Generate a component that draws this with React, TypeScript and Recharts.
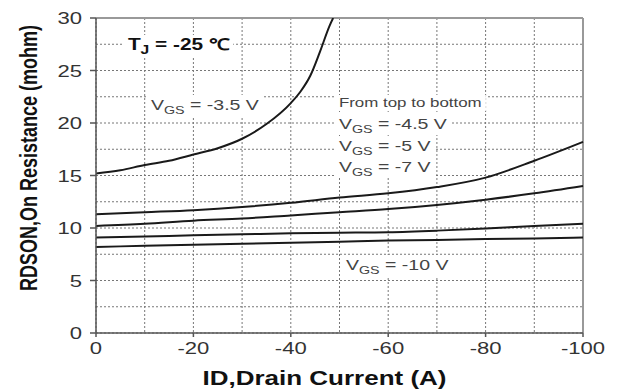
import { LineChart, Line, XAxis, YAxis, CartesianGrid, ReferenceLine } from 'recharts'

// drain current (A) and on-resistance (mohm), one pair of arrays per curve
const ID_35 = [0, -5, -10, -15, -20, -25, -30, -35, -40, -42, -44, -46, -48, -48.7]
const R_35 = [15.2, 15.5, 16.0, 16.4, 17.0, 17.6, 18.5, 19.9, 21.9, 23.0, 24.5, 26.8, 29.3, 30]

const ID_ALL = [0, -10, -20, -30, -40, -50, -60, -70, -80, -90, -100]
const R_45 = [11.3, 11.5, 11.7, 12.0, 12.4, 12.9, 13.3, 13.9, 14.8, 16.4, 18.2]
const R_5 = [10.2, 10.4, 10.7, 10.9, 11.2, 11.5, 11.8, 12.2, 12.7, 13.3, 14.0]
const R_7 = [9.1, 9.2, 9.3, 9.4, 9.5, 9.55, 9.6, 9.75, 9.95, 10.2, 10.4]
const R_10 = [8.2, 8.3, 8.4, 8.5, 8.6, 8.7, 8.8, 8.85, 8.95, 9.0, 9.1]

// grid every 10 A / 2.5 mohm, labels every 20 A / 5 mohm
const X_GRID = [0, -10, -20, -30, -40, -50, -60, -70, -80, -90, -100]
const Y_GRID = [0, 2.5, 5, 7.5, 10, 12.5, 15, 17.5, 20, 22.5, 25, 27.5, 30]
const X_STEP = 20
const Y_STEP = 5

const pts = (ids: number[], rs: number[]) => ids.map((id, i) => ({ id, r: rs[i] }))

const CURVES = [
  { key: 'v35', data: pts(ID_35, R_35) },
  { key: 'v45', data: pts(ID_ALL, R_45) },
  { key: 'v5', data: pts(ID_ALL, R_5) },
  { key: 'v7', data: pts(ID_ALL, R_7) },
  { key: 'v10', data: pts(ID_ALL, R_10) },
]

const FONT = 'Liberation Sans, Arial'
const SX = 1.3 // the reference glyphs are stretched sideways
const X_TS = 4, X_TM = 4, Y_TS = 6, Y_TM = 8

const XTick = ({ x, y, payload }: any) => {
  if (payload.value % X_STEP !== 0) return <g />
  return (
    <g>
      <line x1={x} x2={x} y1={y - X_TM - X_TS} y2={y - X_TM} stroke="#555" strokeWidth={1.5} />
      <text transform={`translate(${x},${y}) scale(${SX},1)`} textAnchor="middle" dy={13}
        fontSize={17} fill="#333" fontFamily={FONT}>{payload.value}</text>
    </g>
  )
}
const YTick = ({ x, y, payload }: any) => {
  if (payload.value % Y_STEP !== 0) return <g />
  return (
    <g>
      <line x1={x + Y_TM} x2={x + Y_TM + Y_TS} y1={y} y2={y} stroke="#555" strokeWidth={1.5} />
      <text transform={`translate(${x},${y}) scale(${SX},1)`} textAnchor="end" dy={6}
        fontSize={17} fill="#333" fontFamily={FONT}>{payload.value}</text>
    </g>
  )
}

const XTitle = ({ viewBox }: any) => (
  <text transform={`translate(${viewBox.x + viewBox.width / 2 - 15},${viewBox.y + viewBox.height - 7}) scale(${SX},1)`}
    textAnchor="middle" fontSize={20} fontWeight="bold" fill="#111" fontFamily={FONT}>ID,Drain Current (A)</text>
)
const YTitle = () => (
  <text transform={`translate(37,158) rotate(-90) scale(1,${SX})`} textAnchor="middle" fontSize={18} fontWeight="bold"
    fill="#111" fontFamily={FONT}>RDSON,On Resistance (mohm)</text>
)

function Vgs({ v }: { v: string }) {
  return (
    <span>
      V<span style={{ fontSize: 11, position: 'relative', top: 4 }}>GS</span> = {v}
    </span>
  )
}

const note = (left: number, cy: number, size: number) => ({
  position: 'absolute' as const, left, top: cy - 10, lineHeight: '20px', fontSize: size,
  fontFamily: FONT, background: '#fff', color: '#444', padding: '0 3px', whiteSpace: 'nowrap' as const,
  transform: `scaleX(${SX})`, transformOrigin: 'left center',
})

export default function App() {
  return (
    <div style={{ position: 'absolute', left: 0, top: 0, width: 622, height: 392, background: '#fff' }}>
      <LineChart width={622} height={392} margin={{ top: 18, right: 39, bottom: 0, left: 0 }}>
        <CartesianGrid stroke="#777" strokeDasharray="2 2" />
        <XAxis
          dataKey="id" type="number" domain={[-100, 0]} reversed ticks={X_GRID} interval={0} height={59}
          tick={<XTick />} tickLine={false} tickSize={X_TS} tickMargin={X_TM} stroke="#555" strokeWidth={1.5}
          label={<XTitle />}
        />
        <YAxis
          type="number" domain={[0, 30]} ticks={Y_GRID} interval={0} width={96} allowDataOverflow
          tick={<YTick />} tickLine={false} tickSize={Y_TS} tickMargin={Y_TM} stroke="#555" strokeWidth={1.5}
          label={<YTitle />}
        />
        <ReferenceLine y={30} stroke="#999" strokeWidth={2} />
        <ReferenceLine x={-100} stroke="#999" strokeWidth={2} />
        {CURVES.map(c => (
          <Line key={c.key} data={c.data} dataKey="r" type="monotone" stroke="#1a1a1a" strokeWidth={2}
            dot={false} isAnimationActive={false} />
        ))}
      </LineChart>
      <div style={{ ...note(124, 45, 16), fontWeight: 'bold', color: '#111' }}>
        T<span style={{ fontSize: 12, position: 'relative', top: 4 }}>J</span> = -25 ℃
      </div>
      <div style={note(147, 105, 15)}><Vgs v="-3.5 V" /></div>
      <div style={{ ...note(335, 103, 13), lineHeight: '16px', top: 95 }}>From top to bottom</div>
      <div style={note(335, 124, 15)}><Vgs v="-4.5 V" /></div>
      <div style={note(335, 146, 15)}><Vgs v="-5 V" /></div>
      <div style={note(335, 167, 15)}><Vgs v="-7 V" /></div>
      <div style={note(342, 265, 15)}><Vgs v="-10 V" /></div>
    </div>
  )
}
